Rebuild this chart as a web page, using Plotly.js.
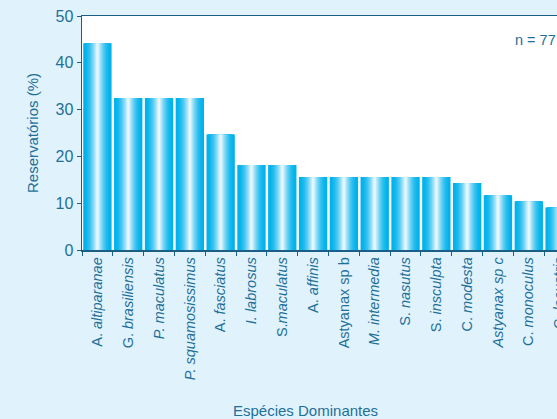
<!DOCTYPE html>
<html>
<head>
<meta charset="utf-8">
<script src="https://cdn.plot.ly/plotly-3.0.1.min.js"></script>
<style>
  html, body { margin: 0; padding: 0; overflow: hidden; background: #e0f2fb; }
  #chart { width: 575px; height: 419px; }
</style>
</head>
<body>
<div id="chart"></div>
<script>
// Dominant species and share of reservoirs where each was dominant (n = 77)
const species = [
  "A. altiparanae", "G. brasiliensis", "P. maculatus", "P. squamosissimus",
  "A. fasciatus", "I. labrosus", "S.maculatus", "A. affinis",
  "Astyanax sp b", "M. intermedia", "S. nasutus", "S. insculpta",
  "C. modesta", "Astyanax sp c", "C. monoculus", "C. lacustris"
];
const speciesLabels = [
  "A. <i>altiparanae</i>", "G. <i>brasiliensis</i>", "<i>P. maculatus</i>", "<i>P. squamosissimus</i>",
  "A. <i>fasciatus</i>", "<i>I. labrosus</i>", "S.<i>maculatus</i>", "A. <i>affinis</i>",
  "Astyanax sp b", "<i>M. intermedia</i>", "S. <i>nasutus</i>", "S. <i>insculpta</i>",
  "C. <i>modesta</i>", "<i>Astyanax sp c</i>", "C. <i>monoculus</i>", "C. <i>lacustris</i>"
];
const reservoirsPct = [
  44.16, 32.47, 32.47, 32.47,
  24.68, 18.18, 18.18, 15.58,
  15.58, 15.58, 15.58, 15.58,
  14.29, 11.69, 10.39, 9.09
];
const yTicks = [0, 10, 20, 30, 40, 50];

// Bars get a horizontal cyan-to-white shading: stacked overlay layers,
// each narrower and lighter than the one below it.
const EDGE = [0, 178, 236];
const CENTER = [232, 247, 253];
const LAYERS = 14;
const BAR_W = 0.92;

function mix(a, b, t) {
  const c = a.map((v, i) => Math.round(v + (b[i] - v) * t));
  return `rgb(${c[0]},${c[1]},${c[2]})`;
}

const traces = [];
for (let k = 0; k < LAYERS; k++) {
  const t = k / (LAYERS - 1);
  traces.push({
    type: "bar",
    x: species,
    y: reservoirsPct,
    width: BAR_W * (1 - k / LAYERS),
    marker: { color: mix(EDGE, CENTER, Math.pow(t, 1.8)), line: { width: 0 } },
    hoverinfo: "skip",
    showlegend: false
  });
}

const axisText = "#1f7099";
const axisLine = "#1b5e86";
const fontFamily = "Liberation Sans, Arial, sans-serif";

const layout = {
  width: 575,
  height: 419,
  margin: { l: 82, r: 0, t: 16, b: 169 },
  paper_bgcolor: "#e0f2fb",
  plot_bgcolor: "#ffffff",
  barmode: "overlay",
  font: { family: fontFamily, color: axisText, size: 15 },
  xaxis: {
    type: "category",
    range: [-0.5, species.length - 0.5],
    tickmode: "array",
    tickvals: species,
    ticktext: speciesLabels,
    tickson: "boundaries",
    tickangle: -90,
    ticks: "outside",
    ticklen: 4,
    tickcolor: axisLine,
    tickfont: { size: 14.5, color: axisText },
    showline: true,
    linecolor: axisLine,
    linewidth: 1.5,
    mirror: true,
    showgrid: false,
    zeroline: false,
    fixedrange: true
  },
  yaxis: {
    range: [0, 50],
    tickmode: "array",
    tickvals: yTicks,
    ticks: "outside",
    ticklen: 4,
    tickcolor: axisLine,
    tickfont: { size: 16, color: axisText },
    showline: true,
    linecolor: axisLine,
    linewidth: 1.5,
    showgrid: false,
    zeroline: false,
    title: { text: "Reservatórios (%)", font: { size: 15, color: axisText }, standoff: 13 },
    fixedrange: true
  },
  annotations: [
    {
      text: "Espécies Dominantes",
      xref: "paper", yref: "paper",
      x: 0.453, y: 0,
      xanchor: "center", yanchor: "top",
      yshift: -150,
      showarrow: false,
      font: { size: 15, color: axisText }
    },
    {
      text: "n = 77",
      xref: "paper", yref: "paper",
      x: (513 - 82) / 493, y: 1,
      xanchor: "left", yanchor: "middle",
      yshift: -24,
      showarrow: false,
      font: { size: 14.5, color: axisText }
    }
  ]
};

Plotly.newPlot("chart", traces, layout, { displayModeBar: false, staticPlot: true });
</script>
</body>
</html>
